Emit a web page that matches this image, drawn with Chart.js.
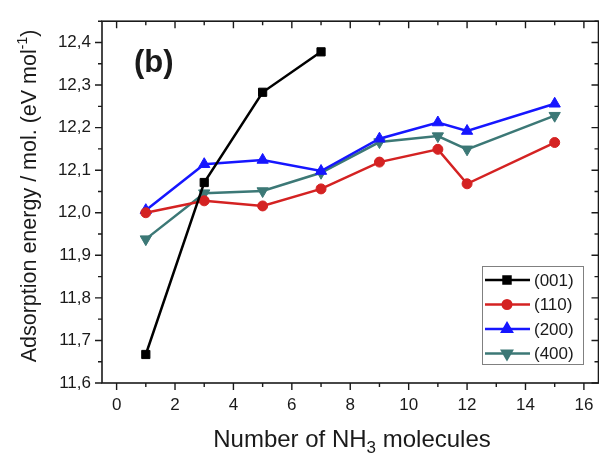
<!DOCTYPE html>
<html>
<head>
<meta charset="utf-8">
<script src="https://cdn.jsdelivr.net/npm/chart.js@4"></script>
<style>
  html, body { margin: 0; padding: 0; background: #fff; overflow: hidden; }
  #wrap { width: 599px; height: 456px; overflow: hidden; }
</style>
</head>
<body>
<div id="wrap"><canvas id="chart" width="606" height="456"></canvas></div>
<script>
// values
const xValues = [1, 3, 5, 7, 9, 11, 12, 15];
const series001 = [11.667, 12.071, 12.283, 12.378];
const series110 = [12.000, 12.028, 12.016, 12.056, 12.119, 12.149, 12.068, 12.165];
const series200 = [12.006, 12.114, 12.124, 12.098, 12.174, 12.212, 12.192, 12.256];
const series400 = [11.938, 12.046, 12.051, 12.094, 12.166, 12.180, 12.149, 12.228];
const seriesLabels = ['(001)', '(110)', '(200)', '(400)'];
const xTicks = [0, 2, 4, 6, 8, 10, 12, 14, 16];
const yTicks = [11.6, 11.7, 11.8, 11.9, 12.0, 12.1, 12.2, 12.3, 12.4];

const FONT = '"Liberation Sans", Arial, sans-serif';
const INK = '#1a1a1a';

const toPoints = (ys) => ys.map((y, i) => ({ x: xValues[i], y: y }));

const makeSet = (label, ys, color, style, radius, rotation) => ({
    label: label,
    data: toPoints(ys),
    borderColor: color,
    backgroundColor: color,
    pointBackgroundColor: color,
    pointBorderColor: color,
    pointStyle: style,
    pointRadius: radius,
    pointRotation: rotation || 0,
    borderWidth: 2.5,
    pointBorderWidth: 1,
    tension: 0,
    clip: false
});

// frame, ticks on all four sides, axis titles, panel tag and legend
const decorations = {
    id: 'decorations',
    afterDraw(chart) {
        const ctx = chart.ctx;
        const a = chart.chartArea;
        const xs = chart.scales.x;
        const ys = chart.scales.y;
        ctx.save();
        ctx.strokeStyle = INK;
        ctx.lineWidth = 1.6;
        ctx.strokeRect(a.left, a.top, a.right - a.left, a.bottom - a.top);

        ctx.lineWidth = 1.4;
        ctx.beginPath();
        for (let v = 0; v <= 16; v += 1) {
            const px = xs.getPixelForValue(v);
            const len = v % 2 === 0 ? 7 : 4;
            ctx.moveTo(px, a.bottom); ctx.lineTo(px, a.bottom + len);
            ctx.moveTo(px, a.top); ctx.lineTo(px, a.top + len);
        }
        for (let k = 0; k <= 17; k++) {
            const v = 11.6 + k * 0.05;
            const py = ys.getPixelForValue(v);
            if (py < a.top - 0.5) continue;
            const len = k % 2 === 0 ? 7 : 4;
            ctx.moveTo(a.left, py); ctx.lineTo(a.left - len, py);
            ctx.moveTo(a.right, py); ctx.lineTo(a.right - len, py);
        }
        ctx.stroke();

        ctx.fillStyle = INK;
        ctx.textBaseline = 'alphabetic';

        // x title with subscript
        ctx.font = '24px ' + FONT;
        const p1 = 'Number of NH', p2 = '3', p3 = ' molecules';
        const subFont = '17px ' + FONT;
        let w1 = ctx.measureText(p1).width, w3 = ctx.measureText(p3).width;
        ctx.font = subFont;
        let w2 = ctx.measureText(p2).width;
        let x0 = 352 - (w1 + w2 + w3) / 2;
        const by = 447;
        ctx.font = '24px ' + FONT;
        ctx.textAlign = 'left';
        ctx.fillText(p1, x0, by);
        ctx.font = subFont;
        ctx.fillText(p2, x0 + w1, by + 6);
        ctx.font = '24px ' + FONT;
        ctx.fillText(p3, x0 + w1 + w2, by);

        // y title with superscript, rotated
        ctx.save();
        ctx.translate(36, 196);
        ctx.rotate(-Math.PI / 2);
        const q1 = 'Adsorption energy / mol. (eV mol', q2 = '-1', q3 = ')';
        ctx.font = '21.5px ' + FONT;
        const v1 = ctx.measureText(q1).width, v3 = ctx.measureText(q3).width;
        ctx.font = '14px ' + FONT;
        const v2 = ctx.measureText(q2).width;
        let sx = -(v1 + v2 + v3) / 2;
        ctx.font = '21.5px ' + FONT;
        ctx.fillText(q1, sx, 0);
        ctx.font = '14px ' + FONT;
        ctx.fillText(q2, sx + v1, -9);
        ctx.font = '21.5px ' + FONT;
        ctx.fillText(q3, sx + v1 + v2, 0);
        ctx.restore();

        // panel tag
        ctx.font = 'bold 31px ' + FONT;
        ctx.fillText('(b)', 134, 72);

        // legend
        const bx = 482, bt = 266, bw = 101, bh = 98;
        ctx.fillStyle = '#fff';
        ctx.fillRect(bx, bt, bw, bh);
        ctx.strokeStyle = '#808080';
        ctx.lineWidth = 1;
        ctx.strokeRect(bx + 0.5, bt + 0.5, bw, bh);
        chart.data.datasets.forEach((ds, i) => {
            const cy = 280 + i * 24.5;
            ctx.strokeStyle = ds.borderColor;
            ctx.lineWidth = 2.5;
            ctx.beginPath();
            ctx.moveTo(485, cy); ctx.lineTo(530, cy);
            ctx.stroke();
            Chart.helpers.drawPoint(ctx, {
                pointStyle: ds.pointStyle,
                radius: ds.pointRadius * 0.85,
                rotation: ds.pointRotation,
                borderWidth: 1
            }, 507, cy);
            ctx.fillStyle = ds.borderColor;
            ctx.fill();
            ctx.fillStyle = INK;
            ctx.font = '17px ' + FONT;
            ctx.textBaseline = 'middle';
            ctx.textAlign = 'left';
            ctx.fillText(ds.label, 534, cy + 1);
        });
        ctx.restore();
    }
};

new Chart(document.getElementById('chart'), {
    type: 'line',
    data: {
        datasets: [
            makeSet(seriesLabels[0], series001, '#000000', 'rect', 5.8),
            makeSet(seriesLabels[1], series110, '#d42222', 'circle', 5),
            makeSet(seriesLabels[2], series200, '#1616ff', 'triangle', 6.5),
            makeSet(seriesLabels[3], series400, '#3c7876', 'triangle', 6.5, 180)
        ]
    },
    options: {
        responsive: false,
        animation: false,
        devicePixelRatio: 1,
        layout: { padding: { top: 14, right: 3.5, left: 0, bottom: 0 } },
        plugins: { legend: { display: false }, tooltip: { enabled: false } },
        scales: {
            x: {
                type: 'linear',
                min: -0.5,
                max: 16.5,
                afterBuildTicks: (s) => { s.ticks = xTicks.map(v => ({ value: v })); },
                afterFit: (s) => { s.height = 73; },
                grid: { display: false, drawTicks: false },
                border: { display: false },
                ticks: { color: INK, font: { family: FONT, size: 17 }, padding: 12, autoSkip: false, maxRotation: 0 }
            },
            y: {
                min: 11.6,
                max: 12.45,
                afterBuildTicks: (s) => { s.ticks = yTicks.map(v => ({ value: v })); },
                afterFit: (s) => { s.width = 102; },
                grid: { display: false, drawTicks: false },
                border: { display: false },
                ticks: {
                    color: INK, font: { family: FONT, size: 17 }, padding: 11, autoSkip: false,
                    callback: (v) => v.toFixed(1).replace('.', ',')
                }
            }
        }
    },
    plugins: [decorations]
});
</script>
</body>
</html>
